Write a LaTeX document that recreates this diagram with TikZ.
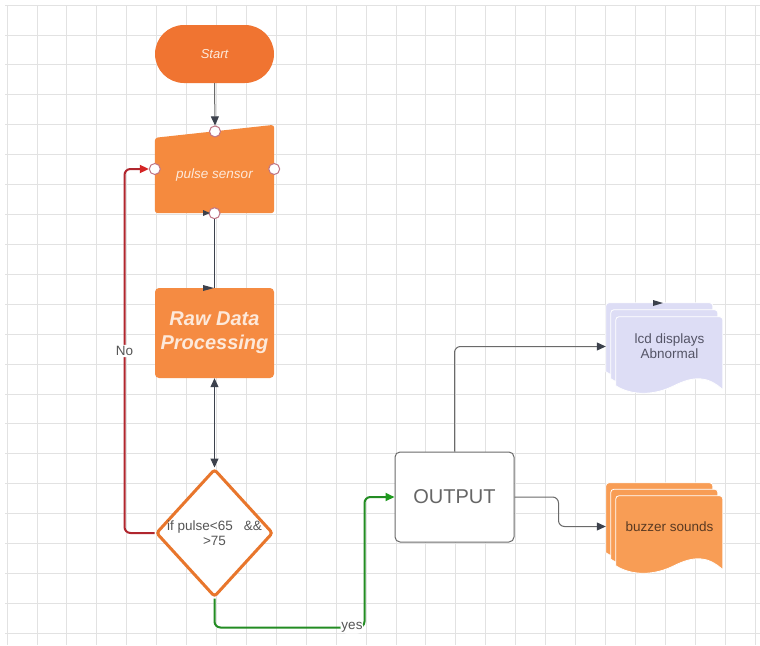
\documentclass[tikz,border=0pt]{standalone}
\usepackage{fontspec}
\setmainfont{Liberation Sans}
\usetikzlibrary{shapes.geometric,arrows.meta,calc,backgrounds}
\definecolor{startor}{HTML}{F07431}
\definecolor{pulseor}{HTML}{F58A3E}
\definecolor{rawor}{HTML}{F58B42}
\definecolor{decor}{HTML}{E8762C}
\definecolor{buzzor}{HTML}{F89D55}
\definecolor{lcdlav}{HTML}{DDDDF5}
\definecolor{gridc}{HTML}{E2E2E2}
\definecolor{arrgray}{HTML}{3C414C}
\definecolor{linegray}{HTML}{6A6A6A}
\definecolor{nored}{HTML}{B0262E}
\definecolor{redtip}{HTML}{D42424}
\definecolor{yesgreen}{HTML}{238C23}
\definecolor{greentip}{HTML}{1E9A1E}
\definecolor{lighttxt}{HTML}{FDE9DA}
\definecolor{circpink}{HTML}{C07585}
\definecolor{txtgray}{HTML}{555555}
\definecolor{lcdtxtc}{HTML}{545466}
\definecolor{buzztxtc}{HTML}{5A3A22}
\newcommand\docpage[4]{%
  \filldraw[fill=#3, draw=white, line width=0.8]
    (#1,{#2+#4-4}) [rounded corners=3]-- (#1,#2) -- ({#1+107},#2) [sharp corners]-- ({#1+107},{#2+#4})
    .. controls ({#1+92},{#2+#4-14}) and ({#1+78},{#2+#4-14}) .. ({#1+58},{#2+#4-4})
    .. controls ({#1+38},{#2+#4+6}) and ({#1+16},{#2+#4+6}) .. (#1,{#2+#4-4}) -- cycle;}
\begin{document}
\begin{tikzpicture}[x=1pt,y=-1pt,
  startbox/.style={rectangle, rounded corners=29pt, fill=startor, minimum width=119pt, minimum height=58pt, text=lighttxt, font=\fontsize{13}{15}\selectfont\itshape, inner sep=0pt},
  pulsebox/.style={rectangle, minimum width=119pt, minimum height=88pt, inner sep=0pt},
  pulsetext/.style={text=lighttxt, font=\fontsize{13.5}{15}\selectfont\itshape, inner sep=0pt},
  circ/.style={circle, draw=circpink, fill=white, line width=1pt, minimum size=11pt, inner sep=0pt},
  rawbox/.style={rectangle, rounded corners=4pt, fill=rawor, minimum width=119pt, minimum height=90pt, text=lighttxt, font=\fontsize{20}{24}\selectfont\bfseries\itshape, align=center, inner sep=0pt},
  decision/.style={diamond, draw=decor, line width=3pt, fill=white, minimum width=117pt, minimum height=128pt, inner sep=0pt, rounded corners=3pt},
  dectext/.style={text=txtgray, font=\fontsize{13.5}{15}\selectfont, align=center, inner sep=0pt},
  outbox/.style={rectangle, rounded corners=5pt, draw=linegray, line width=1pt, fill=white, minimum width=119pt, minimum height=90pt, font=\fontsize{20}{24}\selectfont, text=txtgray!90!white},
  stack/.style={rectangle, minimum width=117pt, minimum height=87pt, inner sep=0pt},
  doctext/.style={font=\fontsize{13.5}{15}\selectfont, align=center, inner sep=0pt},
  lbl/.style={fill=white, text=txtgray, font=\fontsize{13.5}{15}\selectfont, inner sep=1.5pt},
  arr/.style={draw=linegray, line width=1pt, rounded corners=6pt, -{Triangle[length=9pt,width=8pt,color=arrgray]}},
  plainline/.style={draw=arrgray, line width=1pt},
  darr/.style={draw=arrgray, line width=1pt, {Triangle[length=9pt,width=8pt,color=arrgray]}-{Triangle[length=9pt,width=8pt,color=arrgray]}}
]
\useasboundingbox (0,0) rectangle (760,645);
\begin{scope}[on background layer]
  \fill[white] (0,0) rectangle (760,645);
  \foreach \k in {0,...,25} \draw[gridc, line width=0.8pt] ({7+29.92*\k},5) -- ({7+29.92*\k},645);
  \foreach \k in {0,...,21} \draw[gridc, line width=0.8pt] (5,{5+29.92*\k}) -- (760,{5+29.92*\k});
\end{scope}

% nodes
\node[startbox] (start) at (214.5,54) {Start};
\node[pulsebox] (pulse) at (214.5,169) {};
\node[pulsetext] (pulsetxt) at ($(pulse.center)+(0,6)$) {pulse sensor};
\node[circ] (pct) at (215,131.4) {};
\node[circ] (pcl) at (pulse.west) {};
\node[circ] (pcr) at (pulse.east) {};
\node[circ] (pcb) at (pulse.south) {};
\node[rawbox] (raw) at (214.5,333) {Raw Data\\Processing};
\node[decision] (dec) at (214.5,533) {};
\node[dectext] (dectxt) at (dec.center) {if pulse<65\hspace{11pt}\&\&\\>75};
\node[outbox] (output) at (454.5,497) {OUTPUT};
\node[stack] (lcd) at (664.5,346.5) {};
\node[stack] (buzzer) at (664.5,526.5) {};
\node[doctext, text=lcdtxtc] (lcdtxt) at ($(lcd.center)+(5,0)$) {lcd displays\\Abnormal};
\node[doctext, text=buzztxtc] (buzztxt) at ($(buzzer.center)+(5,0)$) {buzzer sounds};

\begin{scope}[on background layer]
  \fill[pulseor, rounded corners=3pt] (pulse.south west) -- ($(pulse.north west)+(0,13)$) -- (pulse.north east) -- (pulse.south east) -- cycle;
  \begin{scope}[shift={(lcd.north west)}]
    \docpage{0}{0}{lcdlav}{73}
    \docpage{5}{7}{lcdlav}{73}
    \docpage{10}{14}{lcdlav}{73}
  \end{scope}
  \begin{scope}[shift={(buzzer.north west)}]
    \docpage{0}{0}{buzzor}{74}
    \docpage{5}{6.5}{buzzor}{74}
    \docpage{10}{13}{buzzor}{74}
  \end{scope}
\end{scope}

% connectors
\draw[arr] (start.south) -- (pct.north);
\draw[plainline] (pcb.south) -- (raw.north);
\draw[darr] (raw.south) -- (dec.north);
\draw[nored, line width=2pt, rounded corners=6pt, -{Triangle[length=9pt,width=8pt,color=redtip]}]
  (dec.west) -- ++(-30,0) |- node[lbl, pos=0.25] {No} (pcl.west);
\draw[yesgreen, line width=2pt, rounded corners=6pt, -{Triangle[length=9pt,width=8pt,color=greentip]}]
  (dec.south) -- ++(0,29) -- ++(150,0) node[lbl, anchor=east, inner sep=1pt] {yes} |- (output.west);
\draw[arr] (output.north) |- (lcd.west);
\draw[arr] (output.east) -- ++(44,0) |- (buzzer.west);

% stray arrow marks shown in the reference
\fill[arrgray] (203,210) -- (210,213) -- (203,216) -- cycle;
\fill[arrgray] (203,285) -- (214,288) -- (203,291) -- cycle;
\fill[arrgray] (653,300) -- (663,303) -- (653,306) -- cycle;
\end{tikzpicture}
\end{document}
